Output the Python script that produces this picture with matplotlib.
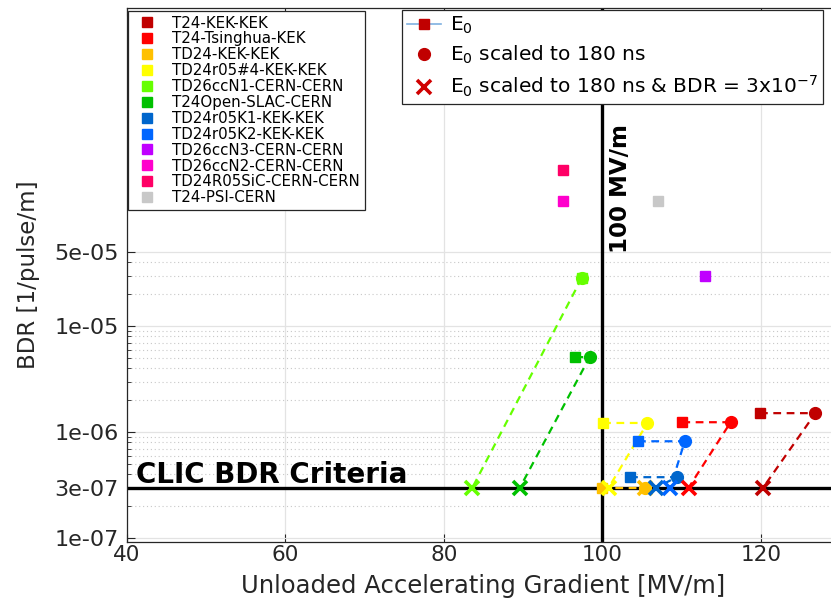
import numpy as np
import matplotlib
matplotlib.use("Agg")
import matplotlib.pyplot as plt
from matplotlib.lines import Line2D
from matplotlib.ticker import FixedLocator, NullFormatter

# Structures tested
structures = [
    "T24-KEK-KEK", "T24-Tsinghua-KEK", "TD24-KEK-KEK", "TD24r05#4-KEK-KEK",
    "TD26ccN1-CERN-CERN", "T24Open-SLAC-CERN", "TD24r05K1-KEK-KEK",
    "TD24r05K2-KEK-KEK", "TD26ccN3-CERN-CERN", "TD26ccN2-CERN-CERN",
    "TD24R05SiC-CERN-CERN", "T24-PSI-CERN",
]
colors = [
    "#C00000", "#FF0000", "#FFC000", "#FFFF00", "#66FF00", "#00C000",
    "#0066CC", "#0066FF", "#C000FF", "#FF00CC", "#FF0066", "#C8C8C8",
]

# Measured gradient E0 [MV/m] and its BDR [1/pulse/m]
e0_gradient = [119.9, 110.1, 100.0, 100.1, 97.4, 96.6, 103.5, 104.5, 113.0, 95.0, 95.0, 107.0]
e0_bdr = [1.51e-6, 1.24e-6, 3.0e-7, 1.22e-6, 2.84e-5, 5.1e-6, 3.76e-7, 8.2e-7, 3.0e-5, 1.51e-4, 2.97e-4, 1.51e-4]
# E0 scaled to 180 ns (same BDR)
scaled_gradient = [126.9, 116.2, 105.4, 105.7, 97.4, 98.4, 109.4, 110.4, None, None, None, None]
# E0 scaled to 180 ns and to the CLIC BDR
clic_gradient = [120.3, 110.9, 105.4, 100.8, 83.6, 89.6, 106.8, 108.6, None, None, None, None]
clic_bdr = 3e-7
clic_gradient_target = 100

W, H = 831, 598
fig = plt.figure(figsize=(W / 100, H / 100), dpi=100)
ax = fig.add_axes([127 / W, 56 / H, (840 - 127) / W, (542 - 8) / H])

ax.set_yscale("log")
ax.set_xlim(40, 130)
ax.set_ylim(9.2e-8, 1e-2)

# grid
ax.set_xticks([40, 60, 80, 100, 120])
ax.set_yticks([1e-7, 3e-7, 1e-6, 1e-5, 5e-5])
ax.set_yticklabels(["1e-07", "3e-07", "1e-06", "1e-05", "5e-05"])
minor = [m * 10.0 ** e for e in (-7, -6, -5) for m in range(2, 10)]
minor = [v for v in minor if v < 5e-5 and abs(v - 3e-7) > 1e-9]
ax.yaxis.set_minor_locator(FixedLocator(minor))
ax.yaxis.set_minor_formatter(NullFormatter())
ax.grid(True, which="major", color="#E3E3E3", lw=0.9, ls="-")
ax.grid(True, which="minor", axis="y", color="#C8C8C8", lw=0.8, ls=(0, (1, 2.5)))
ax.set_axisbelow(True)

for s in ax.spines.values():
    s.set_color("#262626")
    s.set_linewidth(0.9)
ax.tick_params(which="both", direction="in", top=True, right=True, colors="#262626")
ax.tick_params(axis="x", labelsize=15.5, pad=2.5)
ax.tick_params(axis="y", labelsize=16, pad=6)
ax.tick_params(which="major", length=6)
ax.tick_params(which="minor", length=3)

# reference lines
ax.axvline(clic_gradient_target, color="black", lw=2.4, zorder=2)
ax.axhline(clic_bdr, color="black", lw=2.4, zorder=2)

# connecting dashed lines and markers
for i, c in enumerate(colors):
    if scaled_gradient[i] is not None:
        ax.plot([e0_gradient[i], scaled_gradient[i], clic_gradient[i]],
                [e0_bdr[i], e0_bdr[i], clic_bdr],
                ls=(0, (3.5, 2.5)), color=c, lw=1.6, zorder=3)
for i, c in enumerate(colors):
    ax.plot(e0_gradient[i], e0_bdr[i], marker="s", ms=7.5, color=c, ls="none", zorder=4)
for i, c in enumerate(colors):
    if scaled_gradient[i] is not None:
        ax.plot(scaled_gradient[i], e0_bdr[i], marker="o", ms=8.5, color=c, ls="none", zorder=5)
for i, c in enumerate(colors):
    if clic_gradient[i] is not None:
        ax.plot(clic_gradient[i], clic_bdr, marker="x", ms=9.5, mew=2.6, color=c,
                ls="none", zorder=6)

ax.text(102.3, 4.85e-5, "100 MV/m", rotation=90, fontsize=16.5, fontweight="bold",
        ha="center", va="bottom", zorder=7)
ax.text(41.1, 3.3e-7, "CLIC BDR Criteria", fontsize=20, fontweight="bold",
        ha="left", va="baseline", zorder=7)

ax.set_xlabel("Unloaded Accelerating Gradient [MV/m]", fontsize=17.5, color="#262626",
              va="baseline")
ax.xaxis.set_label_coords(0.5, -51 / 534)
ax.set_ylabel("BDR [1/pulse/m]", fontsize=16.5, color="#262626", labelpad=10)

# structure legend
handles1 = [Line2D([], [], marker="s", ls="none", color=c, ms=7.5) for c in colors]
leg1 = fig.legend(handles1, structures, loc="upper left",
                  bbox_to_anchor=(128 / W, 1 - 11 / H), fontsize=10.8,
                  frameon=True, fancybox=False, framealpha=1, edgecolor="#262626",
                  borderpad=0.3, labelspacing=0.06, handlelength=1.9, handletextpad=0.75,
                  borderaxespad=0)
leg1.get_frame().set_linewidth(0.9)

# scaling legend
handles2 = [
    Line2D([], [], color="#7FB0E0", lw=1.2, marker="s", ms=7, mfc="#C00000", mec="#C00000"),
    Line2D([], [], marker="o", ls="none", color="#C00000", ms=8.5),
    Line2D([], [], marker="x", ls="none", color="#D00000", ms=9.5, mew=2.6),
]
labels2 = ["E$_0$", "E$_0$ scaled to 180 ns", "E$_0$ scaled to 180 ns & BDR = 3x10$^{-7}$"]
leg2 = fig.legend(handles2, labels2, loc="upper left",
                  bbox_to_anchor=(402 / W, 1 - 10 / H), fontsize=14.5,
                  frameon=True, fancybox=False, framealpha=1, edgecolor="#262626",
                  borderpad=0.25, labelspacing=0.38, handlelength=1.7, handletextpad=0.45,
                  borderaxespad=0)
leg2.get_frame().set_linewidth(0.9)

fig.savefig("out.png", dpi=100)
